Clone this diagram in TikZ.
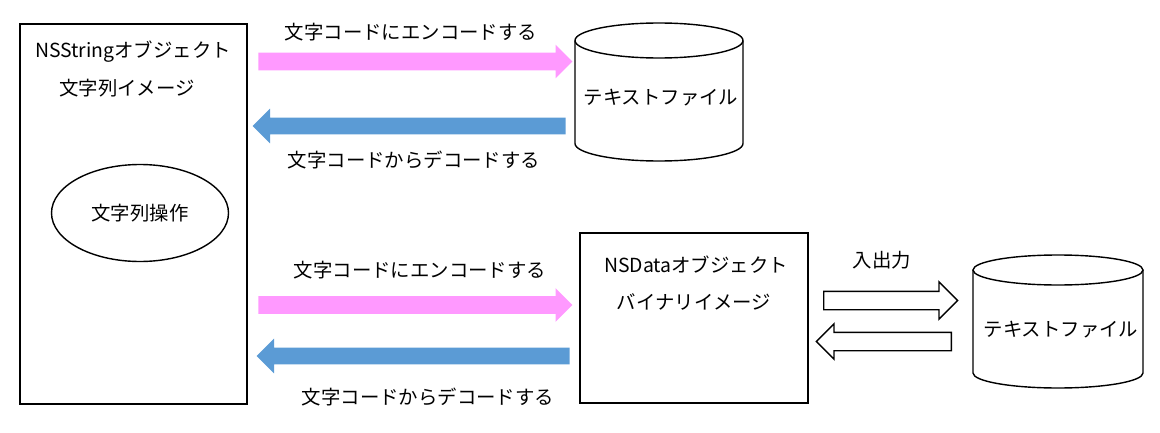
\documentclass[tikz,border=0pt]{standalone}
\usepackage{fontspec}
\setmainfont{Noto Sans CJK JP}
\usetikzlibrary{shapes.geometric, shapes.arrows, positioning}
\definecolor{encpink}{HTML}{FF99FF}
\definecolor{decblue}{HTML}{5B9BD5}

\begin{document}
\begin{tikzpicture}[y=-1cm,
    every node/.style={font=\fontsize{13.8}{16}\selectfont},
    objbox/.style={draw, line width=1.2pt, inner sep=0pt},
    encarrow/.style={single arrow, fill=encpink, anchor=tail, inner xsep=0pt, inner ysep=0.2125cm, minimum height=7.85cm, single arrow head extend=0.2cm},
    decarrow/.style={single arrow, fill=decblue, anchor=tail, inner xsep=0pt, inner ysep=0.2cm, minimum height=7.825cm, single arrow head extend=0.225cm, shape border rotate=180},
    ioarrow/.style={single arrow, draw, fill=white, anchor=tail, line width=1pt, inner xsep=0pt, inner ysep=0.2125cm, minimum height=3.35cm, single arrow head extend=0.2375cm}]
                \useasboundingbox (0,0) rectangle (29,10.825);

                % NSString object
                \node[objbox, minimum width=5.675cm, minimum height=9.5cm] (strobj) at (3.3375, 5.35) {};
                \node (strtitle) at (3.325, 1.3) {NSStringオブジェクト};
                \node (strimage) at (3.175, 2.2) {文字列イメージ};
                \node[ellipse, draw, line width=1pt, minimum width=4.425cm, minimum height=2.425cm, inner sep=0pt] (strop) at (3.5, 5.325) {文字列操作};

                % text file (top)
                \draw[line width=1pt] (14.375,1.0125) -- (14.375,3.5875) arc[start angle=180, end angle=360, x radius=2.1cm, y radius=0.4375cm] -- (18.575,1.0125);
                \draw[line width=1pt] (16.475,1.0125) ellipse[x radius=2.1cm, y radius=0.4375cm];
                \node (file1) at (16.525, 2.45) {テキストファイル};

                % encode / decode (top)
                \node[encarrow] (enc1) at (6.45, 1.5375) {};
                \node (enclabel1) at (10.275, 0.8) {文字コードにエンコードする};
                \node[decarrow] (dec1) at (14.15, 3.15) {};
                \node (declabel1) at (10.35, 4.0) {文字コードからデコードする};

                % NSData object
                \node[objbox, minimum width=5.7cm, minimum height=4.25cm] (dataobj) at (17.35, 7.95) {};
                \node (datatitle) at (17.4, 6.625) {NSDataオブジェクト};
                \node (dataimage) at (17.35, 7.55) {バイナリイメージ};

                % encode / decode (bottom)
                \node[encarrow] (enc2) at (6.45, 7.625) {};
                \node (enclabel2) at (10.5, 6.75) {文字コードにエンコードする};
                \node[decarrow] (dec2) at (14.25, 8.9) {};
                \node (declabel2) at (10.7, 9.925) {文字コードからデコードする};

                % text file (bottom)
                \draw[line width=1pt] (24.325,6.75) -- (24.325,9.325) arc[start angle=180, end angle=360, x radius=2.125cm, y radius=0.375cm] -- (28.575,6.75);
                \draw[line width=1pt] (26.45,6.75) ellipse[x radius=2.125cm, y radius=0.375cm];
                \node (file2) at (26.525, 8.25) {テキストファイル};

                % input / output
                \node (iolabel) at (22.05, 6.5) {入出力};
                \node[ioarrow] (ioout) at (20.575, 7.5125) {};
                \node[ioarrow, minimum height=3.375cm, single arrow head extend=0.2125cm, shape border rotate=180] (ioin) at (23.8, 8.5375) {};
            \end{tikzpicture}
\end{document}
